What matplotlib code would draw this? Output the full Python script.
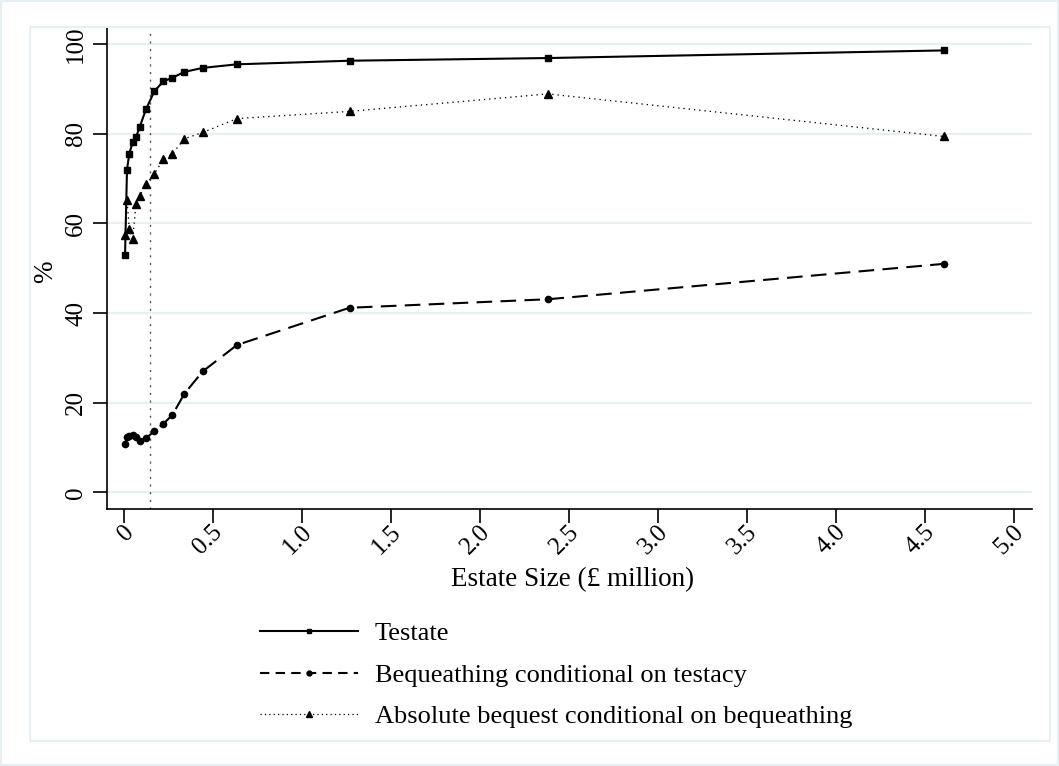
import matplotlib
matplotlib.use("Agg")
import matplotlib.pyplot as plt
from matplotlib.lines import Line2D
from matplotlib.patches import Rectangle
import matplotlib.transforms as mtransforms

plt.rcParams['font.family'] = ['Liberation Serif', 'DejaVu Serif']

# estate size bands (midpoints, £ million)
estate = [0.004, 0.015, 0.028, 0.047, 0.066, 0.086, 0.122, 0.169, 0.219,
          0.270, 0.337, 0.440, 0.633, 1.265, 2.38, 4.605]
testate = [52.9, 72.0, 75.6, 78.1, 79.3, 81.5, 85.5, 89.5, 91.7,
           92.5, 93.8, 94.7, 95.5, 96.3, 96.9, 98.6]
bequeathing = [10.75, 12.45, 12.6, 12.75, 12.45, 11.5, 12.1, 13.7, 15.3,
               17.3, 22.0, 27.0, 32.9, 41.2, 43.1, 51.0]
absolute = [57.5, 65.3, 58.7, 56.6, 64.4, 66.1, 68.8, 71.1, 74.3,
            75.5, 78.9, 80.3, 83.4, 85.0, 88.9, 79.4]
threshold = 0.145

xticks = [0, 0.5, 1.0, 1.5, 2.0, 2.5, 3.0, 3.5, 4.0, 4.5, 5.0]
xticklabels = ['0', '0.5', '1.0', '1.5', '2.0', '2.5', '3.0', '3.5', '4.0', '4.5', '5.0']
yticks = [0, 20, 40, 60, 80, 100]

grid_col = '#e6eff1'

fig = plt.figure(figsize=(10.59, 7.66), dpi=100, facecolor='white')

# outer and inner region frames
fig.patches.append(Rectangle((0.001, 0.001), 0.998, 0.998, transform=fig.transFigure,
                             fill=False, ec=grid_col, lw=1.5))
fig.patches.append(Rectangle((30 / 1059, 1 - 741 / 766), 1020 / 1059, 714 / 766,
                             transform=fig.transFigure, fill=False, ec=grid_col, lw=1.5))

ax = fig.add_axes([106.7 / 1059, 1 - 509.3 / 766, (1032 - 106.7) / 1059, (509.3 - 28) / 766])
ax.set_facecolor('white')

for y in yticks:
    ax.axhline(y, color=grid_col, lw=1.6, zorder=0)

ax.axvline(threshold, color='#555555', lw=1.0, linestyle=(0, (1.5, 4)), zorder=1)

ax.plot(estate, absolute, color='black', lw=0.95, linestyle=(0, (1, 3)),
        marker='^', markersize=6, zorder=2)
ax.plot(estate, bequeathing, color='black', lw=1.5, linestyle=(0, (7.5, 4)),
        marker='o', markersize=4.5, zorder=3)
ax.plot(estate, testate, color='black', lw=1.5, linestyle='-',
        marker='s', markersize=4.5, zorder=4)

ax.set_xlim(-0.099, 5.099)
ax.set_ylim(-3.75, 103.6)

for side in ['top', 'right']:
    ax.spines[side].set_visible(False)
for side in ['left', 'bottom']:
    ax.spines[side].set_linewidth(1.2)

ax.set_xticks(xticks)
ax.set_xticklabels(xticklabels, rotation=45, rotation_mode='anchor', ha='right', va='center')
ax.set_yticks(yticks)
ax.set_yticklabels([str(v) for v in yticks], rotation=90, va='center')
ax.tick_params(axis='both', direction='out', length=10, width=1.2, labelsize=18)
ax.tick_params(axis='x', pad=4)
ax.tick_params(axis='y', pad=4)

offset = mtransforms.ScaledTranslation(6 / 100, 0, fig.dpi_scale_trans)
for lab in ax.get_xticklabels():
    lab.set_transform(lab.get_transform() + offset)

ax.set_xlabel('Estate Size (£ million)', fontsize=19.5)
ax.xaxis.set_label_coords(0.503, -0.12)
ax.set_ylabel('%', fontsize=19.5)
ax.yaxis.set_label_coords(-0.052, 0.493)

handles = [
    Line2D([], [], color='black', lw=1.5, marker='s', markersize=3.5),
    Line2D([], [], color='black', lw=1.5, linestyle=(0, (4.5, 3)), marker='o', markersize=3.5),
    Line2D([], [], color='black', lw=0.9, linestyle=(0, (1, 2.5)), marker='^', markersize=4),
]
labels = ['Testate', 'Bequeathing conditional on testacy',
          'Absolute bequest conditional on bequeathing']
fig.legend(handles, labels, loc='upper left', bbox_to_anchor=(260 / 1059, 1 - 622 / 766),
           frameon=False, fontsize=19, handlelength=3.7, handletextpad=0.64,
           labelspacing=0.68, borderpad=0, borderaxespad=0)

fig.savefig('out.png', dpi=100, facecolor='white')
